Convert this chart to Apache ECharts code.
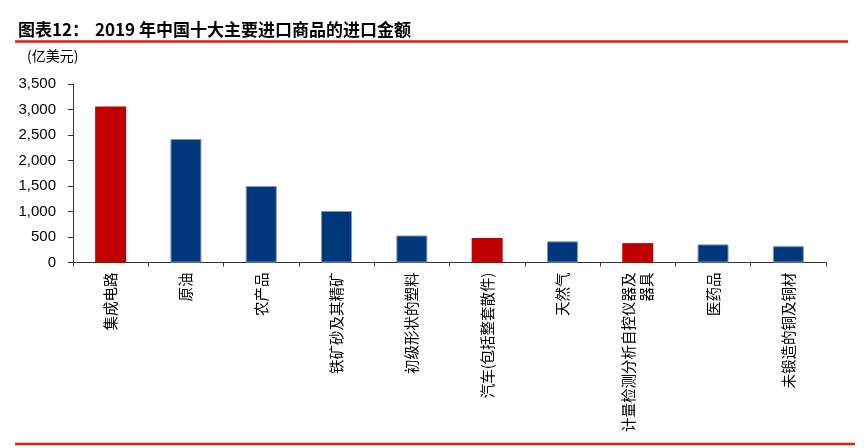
<!DOCTYPE html>
<html>
<head>
<meta charset="utf-8">
<script src="https://cdn.jsdelivr.net/npm/echarts@6/dist/echarts.min.js"></script>
<style>
html,body{margin:0;padding:0;background:#fff;}
#chart{width:864px;height:448px;}
</style>
</head>
<body>
<div id="chart"></div>
<script>
var categories = ['集成电路','原油','农产品','铁矿砂及其精矿','初级形状的塑料','汽车(包括整套散件)','天然气','计量检测分析自控仪器及\n器具','医药品','未锻造的铜及铜材'];
var values = [3060, 2420, 1500, 1010, 530, 480, 415, 380, 355, 320];
var highlight = [true, false, false, false, false, true, false, true, false, false];
var yTicks = {min: 0, max: 3500, interval: 500};
var titleLeft = '图表12：';
var titleRight = '2019 年中国十大主要进口商品的进口金额';
var unitLabel = '(亿美元)';

var RED = '#C00000', BLUE = '#00377A';
var chart = echarts.init(document.getElementById('chart'));
var data = values.map(function (v, i) {
  return highlight[i]
    ? {value: v, itemStyle: {color: RED, borderWidth: 0}}
    : {value: v, itemStyle: {color: BLUE, borderColor: '#7C9AC2', borderWidth: 1}};
});
chart.setOption({
  animation: false,
  backgroundColor: '#fff',
  grid: {left: 73, right: 38, top: 84, bottom: 185.5, containLabel: false},
  xAxis: {
    type: 'category',
    data: categories,
    axisLine: {lineStyle: {color: '#333', width: 1}},
    axisTick: {show: true, length: 4, lineStyle: {color: '#333'}},
    axisLabel: {interval: 0, rotate: 90, margin: 10, fontSize: 14.5, lineHeight: 18,
      fontFamily: 'Noto Sans CJK SC', color: '#000'}
  },
  yAxis: {
    type: 'value',
    min: yTicks.min, max: yTicks.max, interval: yTicks.interval,
    splitLine: {show: false},
    axisLine: {show: true, lineStyle: {color: '#333', width: 1}},
    axisTick: {show: true, length: 5, lineStyle: {color: '#333'}},
    axisLabel: {margin: 17, fontSize: 15, fontFamily: 'Liberation Sans', color: '#000',
      formatter: function (v) { return v.toLocaleString('en-US'); }}
  },
  series: [{type: 'bar', data: data, barWidth: 31}],
  graphic: [
    {type: 'text', left: 18, top: 21, style: {text: titleLeft, fontSize: 17, fontWeight: 'bold', fontFamily: 'Noto Sans CJK SC', fill: '#000'}},
    {type: 'text', left: 95, top: 21, style: {text: titleRight, fontSize: 17, fontWeight: 'bold', fontFamily: 'Noto Sans CJK SC', fill: '#000'}},
    {type: 'line', shape: {x1: 15, y1: 41.5, x2: 848, y2: 41.5}, style: {stroke: '#E2200E', lineWidth: 2.5}},
    {type: 'line', shape: {x1: 15, y1: 444, x2: 855, y2: 444}, style: {stroke: '#E2200E', lineWidth: 2.5}},
    {type: 'text', left: 27, top: 49, style: {text: unitLabel, fontSize: 14, fontFamily: 'Noto Sans CJK SC', fill: '#000'}}
  ]
});
</script>
</body>
</html>
